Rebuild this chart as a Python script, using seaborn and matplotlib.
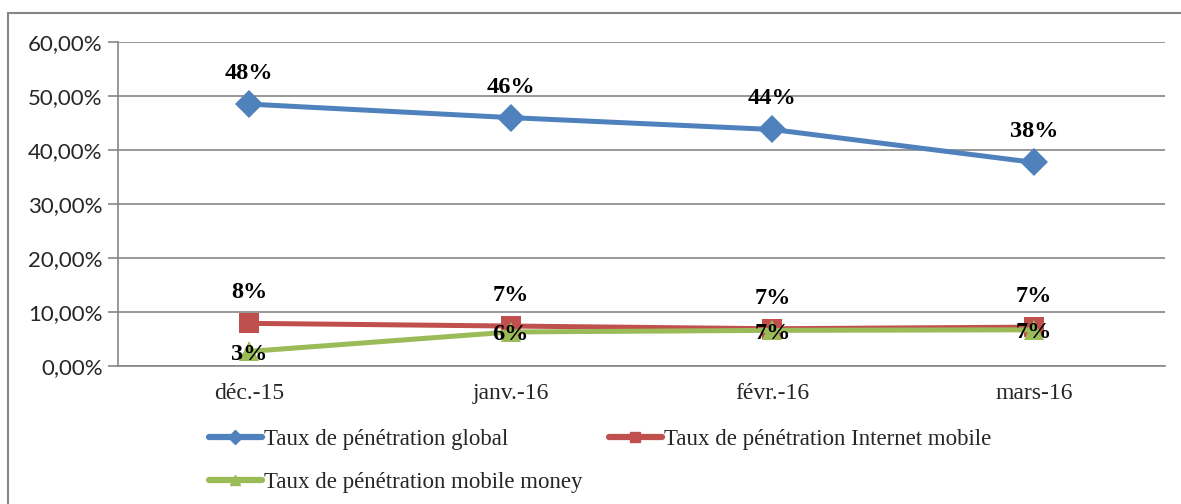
import matplotlib
matplotlib.use("Agg")
import matplotlib.pyplot as plt
import pandas as pd
import seaborn as sns
from matplotlib.patches import Rectangle
from matplotlib.ticker import FixedLocator, FuncFormatter

months = ["déc.-15", "janv.-16", "févr.-16", "mars-16"]
series_names = [
    "Taux de pénétration global",
    "Taux de pénétration Internet mobile",
    "Taux de pénétration mobile money",
]
global_rate = [48.5, 46.0, 43.8, 37.7]
internet_rate = [7.9, 7.4, 6.9, 7.2]
money_rate = [2.7, 6.3, 6.6, 6.7]

colors = ["#4F81BD", "#C0504D", "#9BBB59"]
markers = ["D", "s", "^"]

df = pd.DataFrame({
    "month": months * 3,
    "x": list(range(len(months))) * 3,
    "value": global_rate + internet_rate + money_rate,
    "series": [s for s in series_names for _ in months],
})

sns.set_theme(style="white")
plt.rcParams["font.family"] = ["Liberation Serif", "DejaVu Serif"]

fig = plt.figure(figsize=(11.81, 5.04), dpi=100)
ax = fig.add_axes([118 / 1181, 1 - 366 / 504, 1047 / 1181, 324 / 504])

grid_color = "#868686"

sns.lineplot(
    data=df, x="x", y="value", hue="series", style="series",
    palette=dict(zip(series_names, colors)),
    markers=dict(zip(series_names, markers)),
    dashes=False, linewidth=3.6, markersize=14.5, markeredgewidth=0,
    legend=False, ax=ax, zorder=3,
)

# data labels
label_offsets = [22, 22, -2]
for name, offset in zip(series_names, label_offsets):
    sub = df[df["series"] == name]
    for xv, yv in zip(sub["x"], sub["value"]):
        ax.annotate(f"{round(yv):.0f}%", (xv, yv), xytext=(0, offset),
                    textcoords="offset points", ha="center", va="center",
                    fontsize=17.5, fontweight="bold", color="black", zorder=5)

ax.set_xlim(-0.5, 3.5)
ax.set_ylim(0, 60)
ax.yaxis.set_major_locator(FixedLocator([0, 10, 20, 30, 40, 50, 60]))
ax.yaxis.set_major_formatter(FuncFormatter(lambda v, p: f"{v:.2f}%".replace(".", ",")))
ax.set_xticks(range(len(months)))
ax.set_xticklabels(months)
ax.xaxis.set_minor_locator(FixedLocator([-0.5, 0.5, 1.5, 2.5, 3.5]))
ax.tick_params(axis="x", which="major", length=0, pad=12, labelsize=17)
ax.tick_params(axis="x", which="minor", length=5, width=1.2, color=grid_color, direction="out")
ax.tick_params(axis="y", length=7, width=1.2, color=grid_color, pad=4, labelsize=16, left=True)
for lab in ax.get_yticklabels():
    lab.set_family(["Lato", "DejaVu Sans"])
ax.set_xlabel("")
ax.set_ylabel("")
ax.grid(axis="y", color=grid_color, linewidth=1.2)
ax.set_axisbelow(True)
for side in ["top", "right"]:
    ax.spines[side].set_visible(False)
for side in ["left", "bottom"]:
    ax.spines[side].set_color(grid_color)
    ax.spines[side].set_linewidth(1.2)

# legend: filled column-wise, so order gives global/internet on row 1, money on row 2
order = [0, 2, 1]
handles = [plt.Line2D([], [], color=colors[i], marker=markers[i], linewidth=4.5, markersize=7)
           for i in order]
fig.legend(handles, [series_names[i] for i in order], loc="upper left",
           bbox_to_anchor=(209 / 1181, 1 - 429 / 504), ncol=2, frameon=False,
           fontsize=16.5, handlelength=2.3, handletextpad=0.1, columnspacing=1.15,
           labelspacing=0.95, borderpad=0, borderaxespad=0)

# outer chart frame
fig.patches.append(Rectangle((8 / 1181, -0.1), 1.1, 1.1 - 13 / 504,
                             transform=fig.transFigure, fill=False,
                             edgecolor=grid_color, linewidth=1.5))

fig.savefig("out.png", dpi=100)
